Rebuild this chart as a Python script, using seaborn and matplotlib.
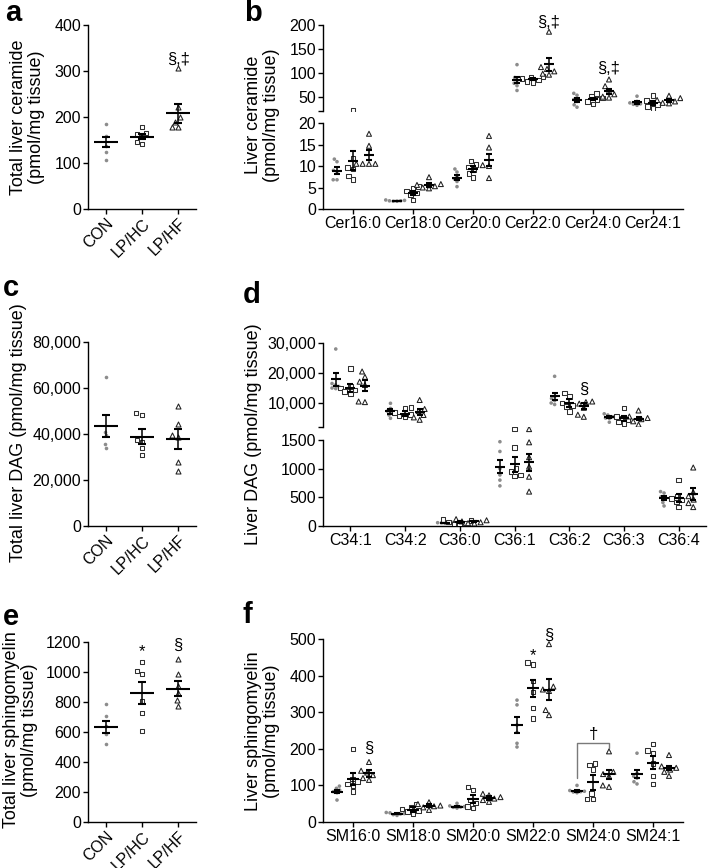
import warnings
warnings.filterwarnings('ignore')
import numpy as np
import pandas as pd
import matplotlib
matplotlib.use('Agg')
import matplotlib.pyplot as plt
from matplotlib.ticker import FuncFormatter
import seaborn as sns

groups = ['CON', 'LP/HC', 'LP/HF']

# ---- a: total liver ceramide
a_con = [185, 159, 137, 123, 106]
a_hc = [179, 166, 162, 157, 146, 141]
a_hf = [306, 221, 200, 190, 178, 178]
a_mean = [145, 157, 208]
a_sem = [11, 5, 21]

# ---- b: liver ceramide species
cer_species = ['Cer16:0', 'Cer18:0', 'Cer20:0', 'Cer22:0', 'Cer24:0', 'Cer24:1']
b_con = [[11.6, 11.0, 9.0, 8.7, 6.8, 6.8], [2.1, 2.0, 1.9, 1.9, 1.8, 1.8],
         [9.3, 8.6, 7.6, 7.0, 6.4, 5.2], [117, 90, 84, 78, 73, 63],
         [57, 53, 44, 40, 33, 28], [51, 40, 37, 35, 34, 32]]
b_hc = [[23, 11.8, 9.6, 9.3, 7.7, 6.8], [5.3, 4.8, 4.2, 3.7, 3.3, 2.1],
        [11.2, 10.4, 9.8, 9.2, 8.3, 7.3], [92, 91, 88, 85, 82, 80],
        [57, 50, 47, 44, 40, 35], [53, 42, 37, 33, 29, 25]]
b_hf = [[17.5, 14.7, 10.5, 10.5, 10.5, 10.5], [7.4, 5.8, 5.6, 5.3, 5.0, 4.8],
        [17.0, 14.3, 10.2, 10.0, 7.2], [186, 112, 108, 103, 98, 96],
        [86, 72, 62, 55, 50, 48], [52, 47, 43, 40, 37, 36]]
b_mean = [[8.9, 1.9, 7.3, 85, 43, 38], [11.2, 3.8, 9.3, 86.5, 45, 37], [12.6, 5.6, 11.5, 118, 61, 42.5]]
b_sem = [[0.85, 0.05, 0.65, 7, 4.5, 2.5], [2.2, 0.5, 0.75, 2.0, 3.0, 4.0], [1.2, 0.45, 1.4, 13.5, 6, 3]]

# ---- c: total liver DAG
c_con = [65000, 41000, 39500, 35500, 34000]
c_hc = [49000, 48200, 37500, 36500, 33700, 30800]
c_hf = [52000, 44400, 39500, 38900, 27700, 23700]
c_mean = [43500, 38800, 37900]
c_sem = [4700, 3300, 4400]

# ---- d: liver DAG species
dag_species = ['C34:1', 'C34:2', 'C36:0', 'C36:1', 'C36:2', 'C36:3', 'C36:4']
d_con = [[28000, 16500, 16000, 15500, 15000, 14800], [9900, 8200, 7300, 7000, 6000, 4900],
         [62, 60, 58, 55, 55, 50], [1470, 1300, 1000, 890, 800, 700],
         [18900, 12200, 11500, 10800, 10000, 9500], [6400, 6000, 5400, 5000, 4900, 3600],
         [600, 575, 510, 470, 410, 350]]
d_hc = [[21500, 15500, 15000, 14300, 13800, 13200], [8500, 8100, 6800, 6100, 5700, 5500],
        [110, 95, 70, 50, 35, 30], [1690, 1370, 1000, 950, 890, 870],
        [13300, 12200, 10000, 9200, 8900, 7200], [8300, 5500, 5000, 4400, 3700, 3100],
        [800, 520, 480, 450, 420, 330]]
d_hf = [[20500, 18700, 17100, 16000, 10500, 10300], [11000, 8000, 7300, 6000, 5200, 4400],
        [120, 100, 80, 65, 50, 45], [1690, 1460, 1200, 1035, 860, 600],
        [10500, 10300, 9800, 8400, 6100, 5400], [7500, 5500, 5000, 4600, 3900, 2800],
        [1020, 590, 520, 460, 400, 330]]
d_mean = [[17900, 7200, 57, 1035, 12200, 5300, 488], [15100, 6500, 65, 1080, 10000, 4900, 494],
          [15800, 7100, 80, 1110, 8900, 4800, 558]]
d_sem = [[2200, 900, 2, 115, 1200, 300, 40], [1400, 700, 15, 130, 1200, 800, 67],
         [1800, 1000, 15, 150, 1000, 500, 100]]

# ---- e: total liver sphingomyelin
e_con = [790, 710, 640, 590, 520]
e_hc = [1070, 1010, 990, 810, 730, 610]
e_hf = [1090, 985, 905, 860, 815, 775]
e_mean = [635, 860, 890]
e_sem = [40, 75, 48]

# ---- f: liver sphingomyelin species
sm_species = ['SM16:0', 'SM18:0', 'SM20:0', 'SM22:0', 'SM24:0', 'SM24:1']
f_con = [[98, 92, 87, 83, 80, 60], [26, 25, 23, 22, 20, 18], [51, 44, 42, 41, 40, 38],
         [333, 320, 265, 245, 215, 205], [100, 86, 84, 83, 82, 80], [188, 133, 125, 120, 110, 104]]
f_hc = [[199, 117, 110, 104, 100, 83], [49, 39, 35, 31, 28, 24], [96, 88, 60, 52, 42, 38],
        [436, 430, 385, 355, 312, 282], [160, 156, 144, 78, 63, 63], [213, 195, 189, 160, 126, 104]]
f_hf = [[164, 140, 135, 128, 120, 115], [54, 49, 45, 43, 40, 33], [77, 73, 68, 64, 60, 55],
        [486, 370, 362, 358, 306, 292], [193, 137, 131, 125, 100, 96], [183, 152, 148, 143, 137, 126]]
f_mean = [[83, 22, 42, 265, 85, 131], [117, 34, 62, 365, 108, 162], [133, 45, 66, 362, 130, 148]]
f_sem = [[5, 1.5, 2, 21, 3, 11], [17, 6.5, 11, 24, 20, 18], [9, 3, 5, 28, 13, 6]]

# ---- significance annotations: (panel, category index, group, y, text)
annotations = [
    ('a', 2, None, 326, '§,‡'),
    ('b', 3, 2, 205, '§,‡'),
    ('b', 4, 2, 108, '§,‡'),
    ('d', 4, 2, 14700, '§'),
    ('e', 1, None, 1135, '*'),
    ('e', 2, None, 1175, '§'),
    ('f', 0, 2, 201, '§'),
    ('f', 3, 1, 455, '*'),
    ('f', 3, 2, 511, '§'),
]
bracket_f = dict(cat=4, y_top=215, y_left=119, y_right=201, label='†', label_y=240)

# ------------------------------------------------------------------
sns.set_theme(style='ticks')
plt.rcParams['font.family'] = ['Liberation Sans', 'DejaVu Sans']
plt.rcParams.update({
    'axes.linewidth': 1.0, 'axes.edgecolor': 'black',
    'xtick.major.width': 1.0, 'ytick.major.width': 1.0,
    'xtick.major.size': 3.5, 'ytick.major.size': 3.5,
    'xtick.major.pad': 1.5, 'ytick.major.pad': 1.5,
    'xtick.labelsize': 11.5, 'ytick.labelsize': 11.5,
    'xtick.color': 'black', 'ytick.color': 'black',
    'text.color': 'black',
})

W, H = 708, 868
fig = plt.figure(figsize=(W / 100, H / 100), dpi=100)


def px_axes(l, t, r, b):
    ax = fig.add_axes([l / W, 1 - b / H, (r - l) / W, (b - t) / H])
    ax.set_facecolor('none')
    sns.despine(ax=ax)
    return ax


STYLE = {
    'CON': dict(marker='o', size=2.6, face='#8c8c8c', edge='#8c8c8c', lw=0),
    'LP/HC': dict(marker='s', size=3.3, face='white', edge='#303030', lw=0.75),
    'LP/HF': dict(marker='^', size=3.6, face='white', edge='#202020', lw=0.75),
}
palette = {g: STYLE[g]['face'] for g in groups}
OFFS = [(-1 + i) * 0.8 / 3 for i in range(3)]


def simple_panel(ax, vals, mean, sem, ylim):
    ax.set_ylim(*ylim)
    ax.set_xlim(-0.5, 2.5)
    rows = [(g, v) for g, vs in zip(groups, vals) for v in vs]
    df = pd.DataFrame(rows, columns=['group', 'value'])
    for g in groups:
        st = STYLE[g]
        sns.swarmplot(data=df[df.group == g], x='group', y='value', order=groups,
                      color=st['face'], marker=st['marker'], size=st['size'],
                      edgecolor=st['edge'], linewidth=st['lw'], ax=ax,
                      warn_thresh=1, zorder=3)
    ax.errorbar(np.arange(3), mean, yerr=sem, fmt='_', color='black', markersize=17,
                mew=1.5, elinewidth=1.1, capsize=3.2, capthick=1.1, zorder=5)
    ax.set_xlim(-0.5, 2.5)
    ax.set_ylim(*ylim)
    ax.set_xlabel('')
    ax.set_ylabel('')
    ax.set_xticks(range(3))
    ax.set_xticklabels(groups, rotation=45, ha='right', rotation_mode='anchor')


def species_panel(axs, species, con, hc, hf, means, sems, ylims, mw, cap):
    rows = []
    for g, vals in zip(groups, (con, hc, hf)):
        for sp, vs in zip(species, vals):
            for v in vs:
                rows.append((sp, g, v))
    df = pd.DataFrame(rows, columns=['species', 'group', 'value'])
    n = len(species)
    for ax, yl in zip(axs, ylims):
        ax.set_ylim(*yl)
        ax.set_xlim(-0.5, n - 0.5)
        sub = df[(df.value >= yl[0]) & (df.value <= yl[1])]
        for g in groups:
            st = STYLE[g]
            sg = sub[sub.group == g]
            if len(sg) == 0:
                continue
            sns.swarmplot(data=sg, x='species', y='value', hue='group',
                          order=species, hue_order=groups, dodge=True, palette=palette,
                          marker=st['marker'], size=st['size'], edgecolor=st['edge'],
                          linewidth=st['lw'], legend=False, ax=ax, warn_thresh=1, zorder=3)
        for gi in range(3):
            ax.errorbar(np.arange(n) + OFFS[gi], means[gi], yerr=sems[gi], fmt='_',
                        color='black', markersize=mw, mew=1.5, elinewidth=1.1,
                        capsize=cap, capthick=1.1, zorder=5)
        ax.set_xlim(-0.5, n - 0.5)
        ax.set_ylim(*yl)
        ax.set_xlabel('')
        ax.set_ylabel('')


comma = FuncFormatter(lambda v, _: f'{int(round(v)):,}')

# ---------------- a
ax_a = px_axes(88, 25, 196, 209)
simple_panel(ax_a, [a_con, a_hc, a_hf], a_mean, a_sem, (0, 400))
ax_a.set_yticks([0, 100, 200, 300, 400])

# ---------------- b
ax_b1 = px_axes(323, 25, 683, 111)
ax_b2 = px_axes(323, 123, 683, 209)
species_panel([ax_b1, ax_b2], cer_species, b_con, b_hc, b_hf, b_mean, b_sem,
              [(20, 200), (0, 20)], 7.5, 1.9)
ax_b1.spines['bottom'].set_visible(False)
ax_b1.tick_params(axis='x', bottom=False, labelbottom=False)
ax_b1.set_yticks([20, 50, 100, 150, 200], ['', '50', '100', '150', '200'])
ax_b2.set_yticks([0, 5, 10, 15, 20])
ax_b2.set_xticks(range(len(cer_species)), cer_species)

# ---------------- c
ax_c = px_axes(88, 342, 196, 526)
simple_panel(ax_c, [c_con, c_hc, c_hf], c_mean, c_sem, (0, 80000))
ax_c.set_yticks([0, 20000, 40000, 60000, 80000])
ax_c.yaxis.set_major_formatter(comma)

# ---------------- d
d_lo_top = 1500 * 99 / 86
ax_d1 = px_axes(323, 343, 706, 427)
ax_d2 = px_axes(323, 427, 706, 526)
species_panel([ax_d1, ax_d2], dag_species, d_con, d_hc, d_hf, d_mean, d_sem,
              [(2000, 30000), (0, d_lo_top)], 7.5, 1.9)
ax_d1.spines['bottom'].set_visible(False)
ax_d1.tick_params(axis='x', bottom=False, labelbottom=False)
ax_d1.set_yticks([2000, 10000, 20000, 30000], ['', '10,000', '20,000', '30,000'])
ax_d2.set_yticks([0, 500, 1000, 1500])
ax_d2.spines['left'].set_bounds(0, 1500)
ax_d2.set_xticks(range(len(dag_species)), dag_species)

# ---------------- e
ax_e = px_axes(88, 642, 196, 822)
simple_panel(ax_e, [e_con, e_hc, e_hf], e_mean, e_sem, (0, 1200))
ax_e.set_yticks(range(0, 1201, 200))

# ---------------- f
ax_f = px_axes(323, 639, 683, 822)
species_panel([ax_f], sm_species, f_con, f_hc, f_hf, f_mean, f_sem, [(0, 500)], 8.5, 2.0)
ax_f.set_yticks(range(0, 501, 100))
ax_f.set_xticks(range(len(sm_species)), sm_species)

# ---------------- annotations
ann_axes = {'a': ax_a, 'b': ax_b1, 'd': ax_d1, 'e': ax_e, 'f': ax_f}
for p, ci, gi, y, t in annotations:
    ax = ann_axes[p]
    x = ci if gi is None else ci + OFFS[gi]
    ax.text(x, y, t, ha='center', va='center', fontsize=12, clip_on=False, zorder=6)

bx = [bracket_f['cat'] + OFFS[0], bracket_f['cat'] + OFFS[0],
      bracket_f['cat'] + OFFS[2], bracket_f['cat'] + OFFS[2]]
by = [bracket_f['y_left'], bracket_f['y_top'], bracket_f['y_top'], bracket_f['y_right']]
ax_f.plot(bx, by, color='#7a7a7a', lw=1.0, zorder=4)
ax_f.text(bracket_f['cat'], bracket_f['label_y'], bracket_f['label'], ha='center',
          va='center', fontsize=12)

# ---------------- y labels
ylabels = [
    (45, 117, 'Total liver ceramide\n(pmol/mg tissue)'),
    (280, 115, 'Liver ceramide\n(pmol/mg tissue)'),
    (27, 433, 'Total liver DAG (pmol/mg tissue)'),
    (262, 434, 'Liver DAG (pmol/mg tissue)'),
    (38, 730, 'Total liver sphingomyelin\n(pmol/mg tissue)'),
    (280, 731, 'Liver sphingomyelin\n(pmol/mg tissue)'),
]
for x, y, t in ylabels:
    fig.text(x / W, 1 - y / H, t, rotation=90, ha='right', va='center',
             multialignment='center', fontsize=13, linespacing=1.1)

# ---------------- panel letters
letters = [(5, 21, 'a'), (244, 21, 'b'), (3, 296, 'c'), (243, 303, 'd'),
           (3, 625, 'e'), (243, 623, 'f')]
for x, y, t in letters:
    fig.text(x / W, 1 - y / H, t, ha='left', va='baseline', fontsize=21,
             fontweight='bold')

fig.savefig('out.png', dpi=100)
